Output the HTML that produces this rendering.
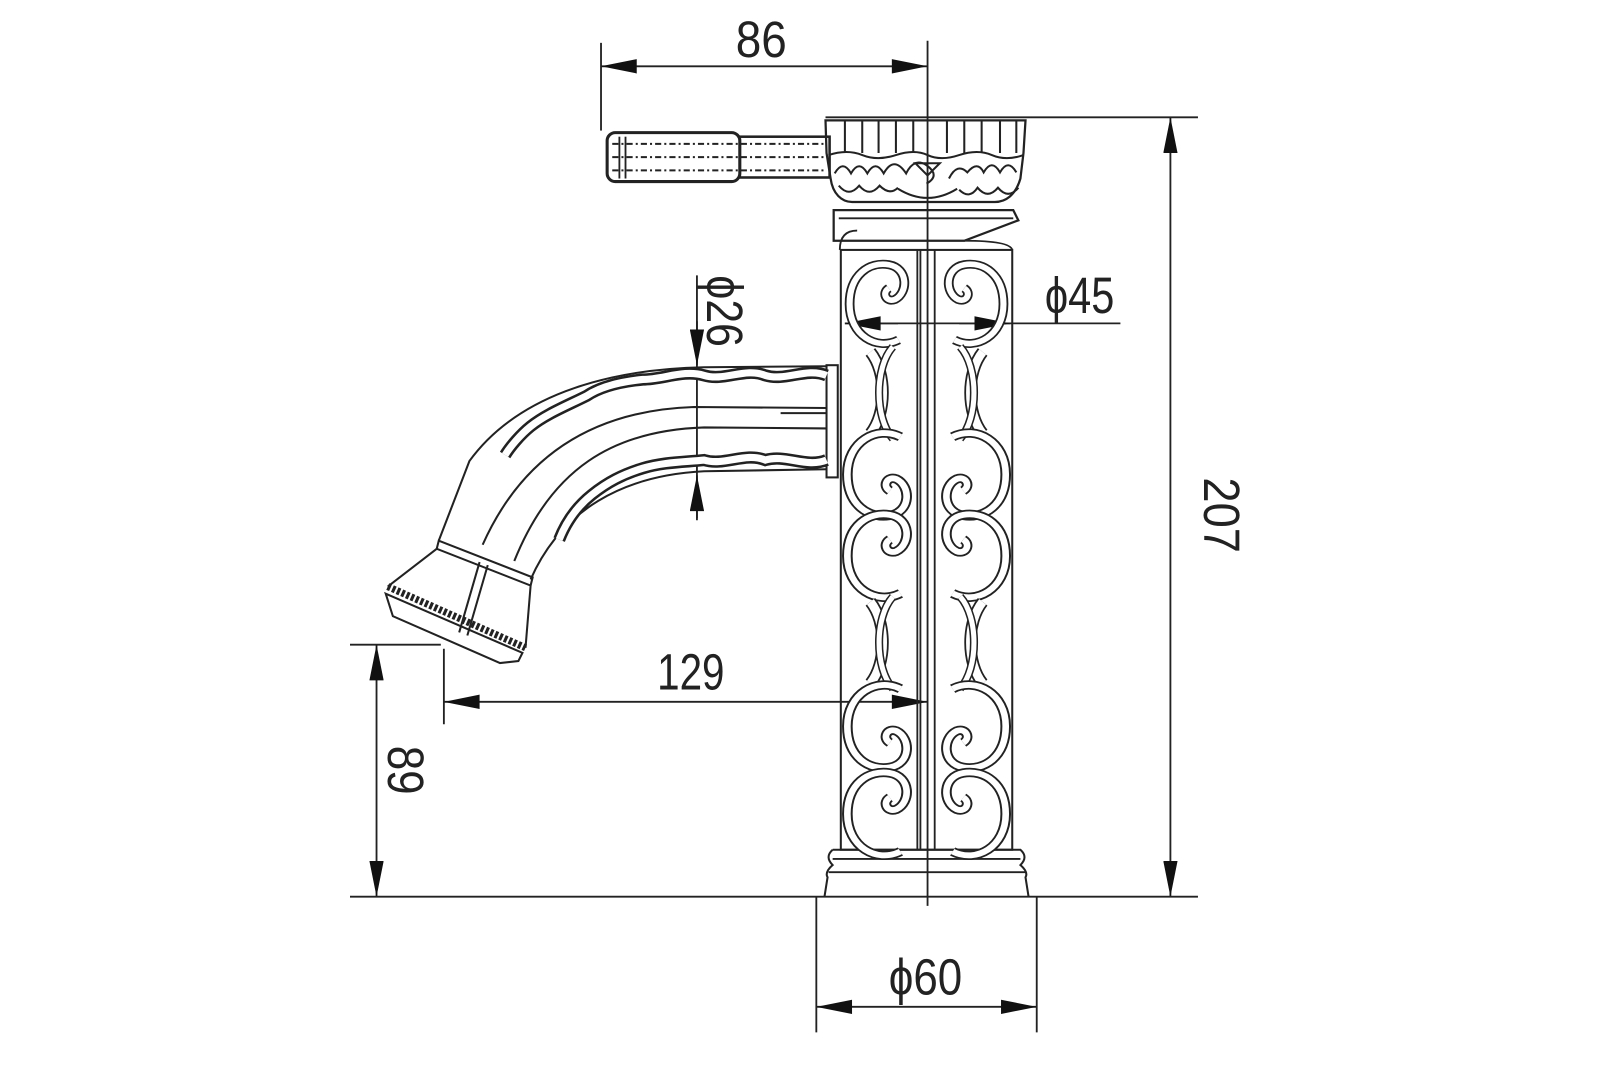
<!DOCTYPE html>
<html><head><meta charset="utf-8"><style>
html,body{margin:0;padding:0;background:#fff;width:1600px;height:1066px;overflow:hidden}
svg{display:block}
text{font-family:"Liberation Sans",sans-serif;fill:#222}
</style></head><body>
<svg width="1600" height="1066" viewBox="0 0 1568 1045" preserveAspectRatio="none" xmlns="http://www.w3.org/2000/svg">
<defs>
<g id="loop">
 <path d="M18,-32 C0,-42 -22,-28 -22,0 C-22,26 -6,38 10,35 C26,32 26,10 15,4 C8,1 4,10 10,14" fill="none" stroke="#222" stroke-width="8"/>
 <path d="M18,-32 C0,-42 -22,-28 -22,0 C-22,26 -6,38 10,35 C26,32 26,10 15,4 C8,1 4,10 10,14" fill="none" stroke="#fff" stroke-width="5"/>
</g>
<g id="brk">
 <path d="M-8,-40 C8,-20 8,20 -8,40" fill="none" stroke="#222" stroke-width="12"/>
 <path d="M-8,-40 C8,-20 8,20 -8,40" fill="none" stroke="#fff" stroke-width="8.5"/>
 <path d="M14,-45 C-4,-25 -4,25 14,45" fill="none" stroke="#222" stroke-width="8"/>
 <path d="M14,-45 C-4,-25 -4,25 14,45" fill="none" stroke="#fff" stroke-width="5"/>
</g>
<g id="panel">
 <use href="#loop" transform="translate(-2,298) scale(1.2,-1.1)"/>
 <use href="#brk" transform="translate(0,385)"/>
 <use href="#loop" transform="translate(-2,465) scale(1.3,1.15)"/>
 <use href="#loop" transform="translate(-2,545) scale(1.3,-1.15)"/>
 <use href="#brk" transform="translate(0,630)"/>
 <use href="#loop" transform="translate(-2,712) scale(1.3,1.15)"/>
 <use href="#loop" transform="translate(-2,798) scale(1.3,-1.15)"/>
</g>
<marker id="a" viewBox="0 0 20 8" refX="20" refY="4" markerWidth="44" markerHeight="14" orient="auto-start-reverse" markerUnits="userSpaceOnUse"><path d="M20,4 L0,0 L0,8 Z" fill="#111"/></marker>
</defs>

<g stroke="#222" stroke-width="1.8" fill="none">
<line x1="589" y1="42" x2="589" y2="128"/>
<line x1="909" y1="40" x2="909" y2="888"/>
<line x1="809" y1="115" x2="1174" y2="115"/>
<line x1="343" y1="879" x2="1174" y2="879"/>
<line x1="343" y1="632" x2="432" y2="632"/>
<line x1="435" y1="636" x2="435" y2="710"/>
<line x1="800" y1="879" x2="800" y2="1012"/>
<line x1="1016" y1="879" x2="1016" y2="1012"/>
<line x1="589" y1="65" x2="909" y2="65" marker-start="url(#a)" marker-end="url(#a)"/>
<line x1="1147" y1="115" x2="1147" y2="879" marker-start="url(#a)" marker-end="url(#a)"/>
<line x1="369" y1="632" x2="369" y2="879" marker-start="url(#a)" marker-end="url(#a)"/>
<line x1="435" y1="688" x2="909" y2="688" marker-start="url(#a)" marker-end="url(#a)"/>
<line x1="800" y1="987" x2="1016" y2="987" marker-start="url(#a)" marker-end="url(#a)"/>
<line x1="683" y1="270" x2="683" y2="508"/>
<line x1="683" y1="315" x2="683" y2="358" marker-end="url(#a)"/>
<line x1="683" y1="510" x2="683" y2="466" marker-end="url(#a)"/>
<line x1="828" y1="317" x2="1098" y2="317"/>
<line x1="828" y1="317" x2="880" y2="317" marker-start="url(#a)"/>
<line x1="990" y1="317" x2="940" y2="317" marker-start="url(#a)"/>

<rect x="595" y="130" width="130" height="48" rx="8" stroke-width="3"/>
<rect x="725" y="134" width="88" height="40" stroke-width="2.5"/>
<g stroke-width="2" stroke-dasharray="6 3 2 3">
<line x1="600" y1="141" x2="808" y2="141"/><line x1="600" y1="154" x2="808" y2="154"/><line x1="600" y1="167" x2="808" y2="167"/>
</g>
<line x1="607" y1="134" x2="607" y2="175"/><line x1="613" y1="134" x2="613" y2="175"/>

<path d="M809,118 L1005,118 L1003,150 L1000,175 C995,192 985,198 975,198 L835,198 C825,198 816,190 814,175 L810,150 Z" stroke-width="2.2"/>
<g stroke-width="2">
<line x1="828" y1="118" x2="828" y2="150"/><line x1="845" y1="118" x2="845" y2="150"/><line x1="861" y1="118" x2="861" y2="150"/><line x1="878" y1="118" x2="878" y2="150"/><line x1="895" y1="118" x2="895" y2="150"/><line x1="928" y1="118" x2="928" y2="150"/><line x1="945" y1="118" x2="945" y2="150"/><line x1="962" y1="118" x2="962" y2="150"/><line x1="980" y1="118" x2="980" y2="150"/><line x1="996" y1="118" x2="996" y2="150"/>
<path d="M812,152 Q830,146 845,152 T878,152 T909,152 T940,152 T972,152 T1003,152"/>
<path d="M818,170 q8,-14 16,0 q8,-14 16,0 q8,-14 16,0 q10,-18 22,0 q8,-16 20,-8 q14,10 0,18 M930,175 q8,-16 18,-6 q10,-12 16,0 q8,-14 16,0 q8,-14 16,0 M880,185 q29,18 58,0"/>
<path d="M822,182 q10,12 20,0 q10,12 20,0 q10,10 18,2 M940,186 q10,10 18,-2 q10,12 20,0 q10,12 20,0"/>
<path d="M897,160 l12,12 l12,-12 z"/>
</g>
<path d="M817,206 L993,206 L998,216 L945,236 L817,236 Z" stroke-width="2.2"/>
<line x1="822" y1="214" x2="993" y2="214"/>
<path d="M823,245 Q823,226 840,226 M945,236 Q990,236 992,245"/>
<rect x="824" y="245" width="168" height="588" stroke-width="2"/>
<line x1="899" y1="245" x2="899" y2="833"/><line x1="902" y1="245" x2="902" y2="833"/><line x1="916" y1="245" x2="916" y2="833"/>
<path d="M816,833 L1000,833 Q1008,840 1000,848 Q1008,855 1005,860 L1008,879 M816,833 Q808,840 816,848 Q808,855 811,860 L808,879" stroke-width="2"/>
<line x1="816" y1="842" x2="1000" y2="842"/><line x1="812" y1="855" x2="1005" y2="855"/>
<g stroke-width="2">
<rect x="810" y="358" width="11" height="110"/>
<path d="M810,359 L690,360 C590,362 505,390 460,452 L430,530"/>
<path d="M810,400 L680,399 C590,402 515,440 473,534"/>
<path d="M810,420 L690,419 C600,422 540,460 504,550"/>
<path d="M810,460 L690,462 C610,466 550,500 520,568"/>
<line x1="765" y1="405" x2="810" y2="405"/>
</g>
<g>
<path d="M810,368 c-20,-8 -40,6 -60,0 c-20,-8 -40,6 -60,0 c-20,-6 -40,4 -60,4 c-20,2 -40,6 -55,16 c-20,10 -40,18 -55,30 c-10,8 -20,20 -25,28" stroke="#222" stroke-width="12"/>
<path d="M810,368 c-20,-8 -40,6 -60,0 c-20,-8 -40,6 -60,0 c-20,-6 -40,4 -60,4 c-20,2 -40,6 -55,16 c-20,10 -40,18 -55,30 c-10,8 -20,20 -25,28" stroke="#fff" stroke-width="7"/>
<path d="M810,451 c-20,8 -40,-6 -60,0 c-20,-8 -40,6 -60,0 c-20,2 -40,2 -60,8 c-20,6 -35,14 -50,26 c-15,12 -25,26 -32,44" stroke="#222" stroke-width="12"/>
<path d="M810,451 c-20,8 -40,-6 -60,0 c-20,-8 -40,6 -60,0 c-20,2 -40,2 -60,8 c-20,6 -35,14 -50,26 c-15,12 -25,26 -32,44" stroke="#fff" stroke-width="7"/>
</g>
<g stroke-width="2">
<path d="M430,530 L522,566 L520,574 L428,538 Z"/>
<path d="M428,538 L380,575 M520,574 L515,635"/>
<path d="M380,575 L515,635" stroke-width="7" stroke-dasharray="3 2"/>
<path d="M378,582 L512,640 L508,648 L490,650 L385,604 Z"/>
<line x1="470" y1="551" x2="450" y2="620"/><line x1="478" y1="554" x2="458" y2="623"/>
</g>
</g>
<use href="#panel" transform="translate(861,0)"/>
<use href="#panel" transform="translate(955,0) scale(-1,1)"/>

<g font-size="50">
<text x="746" y="56" text-anchor="middle" textLength="50" lengthAdjust="spacingAndGlyphs">86</text>
<text x="1024" y="307" textLength="68" lengthAdjust="spacingAndGlyphs">ϕ45</text>
<text x="677" y="676" text-anchor="middle" textLength="66" lengthAdjust="spacingAndGlyphs">129</text>
<text x="907" y="975" text-anchor="middle" textLength="72" lengthAdjust="spacingAndGlyphs">ϕ60</text>
<text transform="translate(1180,505) rotate(90)" text-anchor="middle" textLength="74" lengthAdjust="spacingAndGlyphs">207</text>
<text transform="translate(380,755) rotate(90)" text-anchor="middle" textLength="48" lengthAdjust="spacingAndGlyphs">89</text>
<text transform="translate(693,305) rotate(90)" text-anchor="middle" textLength="70" lengthAdjust="spacingAndGlyphs">ϕ26</text>
</g>
</svg>
</body></html>
